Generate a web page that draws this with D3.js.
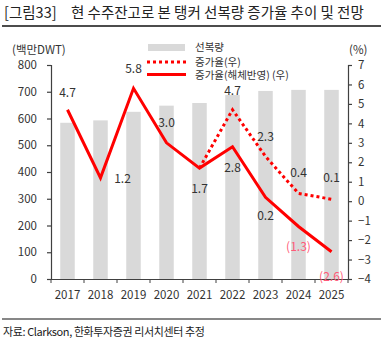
<!DOCTYPE html>
<html>
<head>
<meta charset="utf-8">
<script src="https://cdn.jsdelivr.net/npm/d3@7"></script>
<style>
body{margin:0;background:#fff;}
text{font-family:"Noto Sans CJK KR","Noto Sans",sans-serif;}
</style>
</head>
<body>
<div id="chart"></div>
<script>
var years=["2017","2018","2019","2020","2021","2022","2023","2024","2025"];
var fleet=[584,593,625,648,658,688,703,707,707];
var growthAdj=[4.7,1.2,5.8,3.0,1.7,2.8,0.2,-1.3,-2.6];
var growth=[null,null,null,null,1.7,4.7,2.3,0.4,0.1];
var leftTicks=[0,100,200,300,400,500,600,700,800];
var rightTicks=[-4,-3,-2,-1,0,1,2,3,4,5,6,7];

var W=385,H=342,x0=51,x1=348,yTop=65,yBot=279;
var svg=d3.select("#chart").append("svg").attr("width",W).attr("height",H);

svg.append("text").attr("x",4).attr("y",18).attr("font-size",14.5).attr("fill","#222")
   .text("[그림33]");
svg.append("text").attr("x",71).attr("y",18).attr("font-size",14.5).attr("fill","#222")
   .text("현 수주잔고로 본 탱커 선복량 증가율 추이 및 전망");
svg.append("line").attr("x1",2).attr("x2",381).attr("y1",26).attr("y2",26)
   .attr("stroke","#111").attr("stroke-width",1.5);

var x=d3.scaleBand().domain(years).range([x0,x1]).paddingInner(0.56).paddingOuter(0.28);
var xb=d3.scaleBand().domain(years).range([x0,x1]);
var yl=d3.scaleLinear().domain([0,800]).range([yBot,yTop]);
var yr=d3.scaleLinear().domain([-4,7]).range([yBot,yTop]);

svg.selectAll("rect.bar").data(fleet).enter().append("rect").attr("class","bar")
   .attr("x",function(d,i){return x(years[i]);})
   .attr("width",x.bandwidth())
   .attr("y",function(d){return yl(d);})
   .attr("height",function(d){return yBot-yl(d);})
   .attr("fill","#d9d9d9");

var axCol="#404040";
var gl=svg.append("g").attr("transform","translate("+x0+",0)")
   .call(d3.axisLeft(yl).tickValues(leftTicks).tickSize(4).tickPadding(10));
var gr=svg.append("g").attr("transform","translate("+x1+",0)")
   .call(d3.axisRight(yr).tickValues(rightTicks).tickSize(4).tickPadding(6));
var gb=svg.append("g").attr("transform","translate(0,"+yBot+")")
   .call(d3.axisBottom(xb).tickSize(0).tickPadding(12));
// ticks at category boundaries
svg.selectAll("line.bt").data(years.concat(["end"])).enter().append("line").attr("class","bt")
   .attr("x1",function(d,i){return x0+i*xb.step();})
   .attr("x2",function(d,i){return x0+i*xb.step();})
   .attr("y1",yBot).attr("y2",yBot+4).attr("stroke",axCol);
[gl,gr,gb].forEach(function(g){
  g.selectAll("path,line").attr("stroke",axCol).attr("stroke-width",1.2);
  g.selectAll("text").attr("font-size",11.5).attr("fill","#333")
   .attr("font-family","'Noto Sans CJK KR','Noto Sans',sans-serif");
});

var cx=function(i){return xb(years[i])+xb.bandwidth()/2;};
var line=d3.line().defined(function(d){return d!=null;})
   .x(function(d,i){return cx(i);}).y(function(d){return yr(d);});
svg.append("path").datum(growth).attr("d",line).attr("fill","none")
   .attr("stroke","#ff0000").attr("stroke-width",3).attr("stroke-dasharray","3,3");
svg.append("path").datum(growthAdj).attr("d",line).attr("fill","none")
   .attr("stroke","#ff0000").attr("stroke-width",3).attr("stroke-linejoin","miter");

function fmt(v){return v<0?"("+Math.abs(v).toFixed(1)+")":v.toFixed(1);}
// label offsets (dx,dy) relative to the point
var adjOff=[[0,-17],[22,1],[0,-20],[0,-20],[0,21],[0,21],[0,19],[0,20],[0,25]];
var grOff=[null,null,null,null,null,[0,-19],[0,-20],[0,-21],[0,-21]];
function lbl(arr,off){
  arr.forEach(function(d,i){
    if(d==null||!off[i]) return;
    svg.append("text")
     .attr("x",cx(i)+off[i][0]).attr("y",yr(d)+off[i][1])
     .attr("dy","0.35em").attr("text-anchor","middle").attr("font-size",12)
     .attr("fill",d<0?"#ff5a78":"#333")
     .text(fmt(d));
  });
}
lbl(growthAdj,adjOff);
lbl(growth,grOff);

// axis unit labels
svg.append("text").attr("x",12).attr("y",54).attr("font-size",11.5).attr("fill","#333").text("(백만DWT)");
svg.append("text").attr("x",349).attr("y",54).attr("font-size",11.5).attr("fill","#333").text("(%)");

// legend
var lg=svg.append("g").attr("font-size",10.5).attr("fill","#333");
lg.append("rect").attr("x",148).attr("y",44).attr("width",37).attr("height",7).attr("fill","#d9d9d9");
lg.append("text").attr("x",195).attr("y",51).text("선복량");
lg.append("line").attr("x1",147).attr("x2",186).attr("y1",62).attr("y2",62)
  .attr("stroke","#ff0000").attr("stroke-width",3).attr("stroke-dasharray","3,3");
lg.append("text").attr("x",195).attr("y",65.5).text("증가율(우)");
lg.append("line").attr("x1",147).attr("x2",186).attr("y1",74.5).attr("y2",74.5)
  .attr("stroke","#ff0000").attr("stroke-width",3);
lg.append("text").attr("x",195).attr("y",79).text("증가율(해체반영) (우)");

svg.append("line").attr("x1",2).attr("x2",381).attr("y1",319).attr("y2",319)
   .attr("stroke","#111").attr("stroke-width",1.2);
svg.append("text").attr("x",3).attr("y",336).attr("font-size",11).attr("fill","#222")
   .attr("letter-spacing","-0.4").text("자료: Clarkson, 한화투자증권 리서치센터 추정");
</script>
</body>
</html>
